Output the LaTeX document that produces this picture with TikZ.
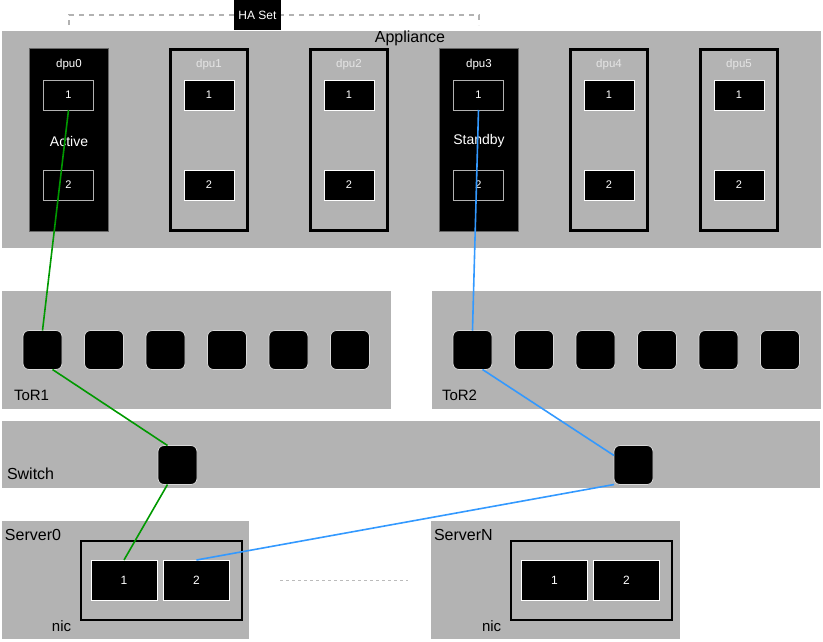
\documentclass[tikz,border=0pt]{standalone}
\usepackage{fontspec}
\setmainfont{Liberation Sans}
\definecolor{panelgray}{HTML}{B3B3B3}
\definecolor{edgegray}{HTML}{666666}
\definecolor{activegreen}{HTML}{009900}
\definecolor{standbyblue}{HTML}{3399FF}
\definecolor{dashgray}{HTML}{AAAAAA}
\begin{document}
\begin{tikzpicture}[x=1pt,y=-1pt,
  every node/.style={inner sep=0pt, outer sep=0pt},
  panel/.style={fill=panelgray, draw=none},
  dpuon/.style={fill=black, draw=edgegray, line width=1pt, minimum width=79pt, minimum height=183pt},
  dpuoff/.style={fill=panelgray, draw=black, line width=3pt, minimum width=77pt, minimum height=181pt},
  dport/.style={fill=black, draw=white, line width=0.8pt, minimum width=50pt, minimum height=30pt,
                text=white, font=\fontsize{11}{13}\selectfont},
  dportdim/.style={dport, draw=gray!60!white},
  torport/.style={fill=black, draw=white!85!black, line width=0.8pt, rounded corners=6pt,
                  minimum width=39pt, minimum height=39pt},
  nicbox/.style={fill=panelgray, draw=black, line width=2pt, minimum width=161pt, minimum height=79pt},
  nport/.style={fill=black, draw=white, line width=0.8pt, minimum width=66pt, minimum height=40pt,
                text=white, font=\fontsize{12}{14}\selectfont},
  dlabel/.style={text=white, font=\fontsize{11.5}{13}\selectfont},
  dlabeldim/.style={text=white!90!black, font=\fontsize{11.5}{13}\selectfont},
  state/.style={text=white, font=\fontsize{14}{16}\selectfont},
  title/.style={text=black, font=\fontsize{16}{18}\selectfont},
  smalltitle/.style={text=black, font=\fontsize{15}{17}\selectfont},
  link/.style={line width=1.6pt},
  haline/.style={draw=dashgray!90!white, line width=1.3pt, dash pattern=on 5pt off 5pt}
]
\useasboundingbox (0,0) rectangle (823,641);

% HA set bracket and tag
\draw[haline] (69,25) -- (69,15) -- (479,15) -- (479,25);
\node[fill=black, minimum width=47pt, minimum height=30pt, text=white,
      font=\fontsize{12}{14}\selectfont] (haset) at (257.5,15) {HA Set};

% Appliance and its DPUs
\node[panel, minimum width=819pt, minimum height=217pt] (appliance) at (411.5,139.5) {};
\node[title] (applabel) at (410,38) {Appliance};

\node[dpuon]  (dpu0) at (69,140) {};
\node[dpuoff] (dpu1) at (208.5,140) {};
\node[dpuoff] (dpu2) at (348.5,140) {};
\node[dpuon]  (dpu3) at (479,140) {};
\node[dpuoff] (dpu4) at (608.5,140) {};
\node[dpuoff] (dpu5) at (738.5,140) {};

\node[dlabel] (dpu0l) at (69,65) {dpu0};
\node[dlabeldim] (dpu1l) at (209,65) {dpu1};
\node[dlabeldim] (dpu2l) at (349,65) {dpu2};
\node[dlabel] (dpu3l) at (479,65) {dpu3};
\node[dlabeldim] (dpu4l) at (609,65) {dpu4};
\node[dlabeldim] (dpu5l) at (739,65) {dpu5};

\node[state] (act) at (69,141) {Active};
\node[state] (stb) at (479,141) {Standby};

\node[dportdim] (d0p1) at (68.5,95) {1};
\node[dportdim] (d0p2) at (68.5,185) {2};
\node[dport] (d1p1) at (209,95) {1};
\node[dport] (d1p2) at (209,185) {2};
\node[dport] (d2p1) at (349,95) {1};
\node[dport] (d2p2) at (349,185) {2};
\node[dportdim] (d3p1) at (478.5,95) {1};
\node[dportdim] (d3p2) at (478.5,185) {2};
\node[dport] (d4p1) at (609,95) {1};
\node[dport] (d4p2) at (609,185) {2};
\node[dport] (d5p1) at (739,95) {1};
\node[dport] (d5p2) at (739,185) {2};

% Top-of-rack switches
\node[panel, minimum width=389pt, minimum height=118pt] (tor1) at (196.5,350) {};
\node[panel, minimum width=389pt, minimum height=118pt] (tor2) at (626.5,350) {};
\node[smalltitle, anchor=west] (tor1l) at (14,395) {ToR1};
\node[smalltitle, anchor=west] (tor2l) at (442,395) {ToR2};
\foreach \i in {0,...,5} {
  \node[torport] (t1p\i) at (42.5+61.5*\i,350) {};
  \node[torport] (t2p\i) at (472.5+61.5*\i,350) {};
}

% Spine switch
\node[panel, minimum width=818pt, minimum height=67pt] (switch) at (411,454.5) {};
\node[title, anchor=west] (switchl) at (7,474) {Switch};
\node[torport] (sw1) at (177.5,465) {};
\node[torport] (sw2) at (633.5,465) {};

% Servers
\node[panel, minimum width=247pt, minimum height=118pt] (server0) at (125.5,580) {};
\node[panel, minimum width=249pt, minimum height=118pt] (serverN) at (555.5,580) {};
\node[title, anchor=west] (server0l) at (5,535) {Server0};
\node[title, anchor=west] (serverNl) at (434,535) {ServerN};
\node[nicbox] (nic0) at (161.5,580.5) {};
\node[nicbox] (nicN) at (591,580.5) {};
\node[smalltitle, anchor=west] (nic0l) at (52,626) {nic};
\node[smalltitle, anchor=west] (nicNl) at (482,626) {nic};
\node[nport] (s0p1) at (124,580) {1};
\node[nport] (s0p2) at (196.5,580) {2};
\node[nport] (sNp1) at (554.5,580) {1};
\node[nport] (sNp2) at (626.5,580) {2};

\coordinate (gapl) at (280,580);
\coordinate (gapr) at (408,580);
\draw[draw=dashgray!80!white, line width=1pt, dash pattern=on 3pt off 3pt] (gapl) -- (gapr);

% Active path
\draw[link, activegreen] (d0p1.south) -- (t1p0.north);
\draw[link, activegreen] ([xshift=10pt]t1p0.south) -- ([xshift=-10pt]sw1.north);
\draw[link, activegreen] ([xshift=-10pt]sw1.south) -- (s0p1.north);

% Standby path
\draw[link, standbyblue] (d3p1.south) -- (t2p0.north);
\draw[link, standbyblue] ([xshift=10pt]t2p0.south) -- ([yshift=-10pt]sw2.north west);
\draw[link, standbyblue] (sw2.south west) -- (s0p2.north);
\end{tikzpicture}
\end{document}
